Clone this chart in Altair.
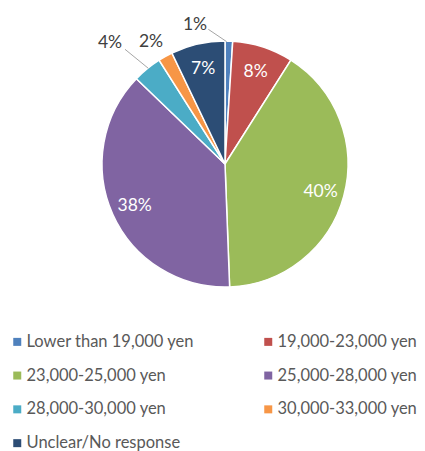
import altair as alt
import pandas as pd

categories = ["Lower than 19,000 yen", "19,000-23,000 yen", "23,000-25,000 yen",
              "25,000-28,000 yen", "28,000-30,000 yen", "30,000-33,000 yen",
              "Unclear/No response"]
shares = [1.0, 8.0, 40.4, 37.8, 3.8, 1.9, 7.1]
labels = ["1%", "8%", "40%", "38%", "4%", "2%", "7%"]
inside = [False, True, True, True, False, False, True]
colors = ["#4F81BD", "#C0504D", "#9BBB59", "#8064A2", "#4BACC6", "#F79646", "#2C4D75"]

# outside labels: offsets from the pie centre (px)
out_text = ["1%", "4%", "2%"]
out_dx = [-30, -115, -74]
out_dy = [-139, -121, -122]

# leader lines (offsets from the pie centre)
lead_x1 = [-16.7, -100.0]
lead_y1 = [-134.7, -114.7]
lead_x2 = [1.7, -76.7]
lead_y2 = [-122.3, -95.7]

W, H = 409, 443
CX, CY = 217, 156
R = 123

df = pd.DataFrame({
    "category": categories,
    "share": shares,
    "idx": list(range(len(categories))),
    "inner": [l if i else "" for l, i in zip(labels, inside)],
})
out_df = pd.DataFrame({"t": out_text, "x": out_dx, "y": out_dy})
lead_df = pd.DataFrame({"x": lead_x1, "y": lead_y1, "x2": lead_x2, "y2": lead_y2})

xs = alt.Scale(domain=[-CX, W - CX])
ys = alt.Scale(domain=[-CY, H - CY], reverse=True)

base = alt.Chart(df)

pie = base.mark_arc(outerRadius=R, stroke="white", strokeWidth=1.5).encode(
    theta=alt.Theta("share:Q", stack=True),
    order=alt.Order("idx:Q"),
    color=alt.Color(
        "category:N",
        scale=alt.Scale(domain=categories, range=colors),
        sort=categories,
        legend=alt.Legend(
            title=None, orient="none", legendX=1, legendY=325.5, columns=2,
            direction="horizontal",
            symbolType="square", symbolSize=64, symbolStrokeWidth=0,
            labelFont="Lato", labelFontSize=16.5, labelColor="#595959",
            labelOffset=1, rowPadding=16.8, columnPadding=65, labelLimit=300,
        ),
    ),
    x=alt.value(CX), y=alt.value(CY),
)

inner_text = base.mark_text(font="Lato", fontSize=17.5, color="white").encode(
    theta=alt.Theta("share:Q", stack=True),
    order=alt.Order("idx:Q"),
    radius=alt.value(99),
    text="inner:N",
    x=alt.value(CX), y=alt.value(CY + 2),
)

leaders = alt.Chart(lead_df).mark_rule(color="#A6A6A6", strokeWidth=1).encode(
    x=alt.X("x:Q", scale=xs, axis=None),
    y=alt.Y("y:Q", scale=ys, axis=None),
    x2="x2:Q", y2="y2:Q",
)

outer_text = alt.Chart(out_df).mark_text(font="Lato", fontSize=17.5, color="#404040").encode(
    x=alt.X("x:Q", scale=xs, axis=None),
    y=alt.Y("y:Q", scale=ys, axis=None),
    text="t:N",
)

chart = alt.layer(pie, inner_text, leaders, outer_text).properties(
    width=W, height=H, autosize=alt.AutoSizeParams(type="none"), padding=0
).configure_view(stroke=None)

chart.save("out.html", embed_options={"renderer": "svg", "actions": False})
